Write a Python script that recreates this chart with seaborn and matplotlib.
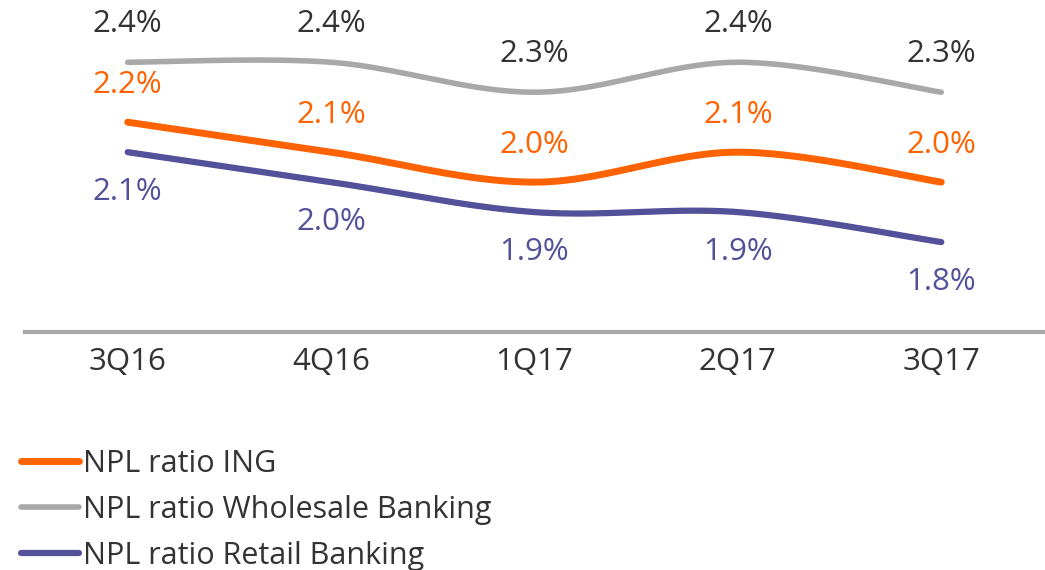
import numpy as np
import pandas as pd
import matplotlib
matplotlib.use("Agg")
import matplotlib.pyplot as plt
import seaborn as sns

quarters = ["3Q16", "4Q16", "1Q17", "2Q17", "3Q17"]
npl_ing = [2.2, 2.1, 2.0, 2.1, 2.0]
npl_wholesale = [2.4, 2.4, 2.3, 2.4, 2.3]
npl_retail = [2.1, 2.0, 1.9, 1.9, 1.8]
series_names = ["NPL ratio ING", "NPL ratio Wholesale Banking", "NPL ratio Retail Banking"]

colors = {"NPL ratio ING": "#FF6200",
          "NPL ratio Wholesale Banking": "#A8A8A8",
          "NPL ratio Retail Banking": "#525199"}
label_colors = {"NPL ratio ING": "#FF6200",
                "NPL ratio Wholesale Banking": "#333333",
                "NPL ratio Retail Banking": "#525199"}
label_offset = {"NPL ratio ING": 37,
                "NPL ratio Wholesale Banking": 38,
                "NPL ratio Retail Banking": -40}
widths = {"NPL ratio ING": 5.0, "NPL ratio Wholesale Banking": 4.0,
          "NPL ratio Retail Banking": 4.5}

sns.set_theme(style="white")
plt.rcParams["font.family"] = ["Open Sans", "DejaVu Sans"]
TXT = "#333333"
FS = 22.5
FS_LEG = 22


def smooth(xs, ys, n=60):
    """Excel-like Catmull-Rom Bezier smoothing for drawing."""
    P = np.column_stack([xs, ys]).astype(float)
    Pe = np.vstack([P[0], P, P[-1]])
    out = []
    for i in range(len(P) - 1):
        p0, p1, p2, p3 = Pe[i], Pe[i + 1], Pe[i + 2], Pe[i + 3]
        b1 = p1 + (p2 - p0) / 6.0
        b2 = p2 - (p3 - p1) / 6.0
        t = np.linspace(0, 1, n)[:, None]
        seg = ((1 - t) ** 3) * p1 + 3 * ((1 - t) ** 2) * t * b1 + 3 * (1 - t) * t ** 2 * b2 + t ** 3 * p2
        out.append(seg if i == 0 else seg[1:])
    return np.vstack(out)


df = pd.DataFrame({"quarter": quarters * 3,
                   "x": list(range(len(quarters))) * 3,
                   "value": npl_ing + npl_wholesale + npl_retail,
                   "series": sum([[s] * len(quarters) for s in series_names], [])})

W, H = 1045, 570
fig = plt.figure(figsize=(W / 100, H / 100), dpi=100)
ax = fig.add_axes([25 / W, 1 - 332 / H, (1045 - 25) / W, (332 - 2.3) / H])

for s in series_names:
    sub = df[df.series == s]
    pts = smooth(sub.x.values, sub.value.values)
    sdf = pd.DataFrame({"x": pts[:, 0], "y": pts[:, 1], "series": s})
    sns.lineplot(data=sdf, x="x", y="y", color=colors[s], linewidth=widths[s],
                 sort=False, estimator=None, ax=ax, label=s,
                 solid_capstyle="round")
    for xi, v in zip(sub.x, sub.value):
        ax.annotate(f"{v:.1f}%", (xi, v), xytext=(0, label_offset[s]),
                    textcoords="offset pixels", ha="center", va="center",
                    fontsize=FS, color=label_colors[s])

ax.set_xlim(-0.505, 4.51)
ax.set_ylim(1.5, 2.6)
ax.set_xticks(range(len(quarters)))
ax.set_xticklabels(quarters, fontsize=FS, color=TXT)
ax.set_yticks([])
ax.set_xlabel("")
ax.set_ylabel("")
for sp in ["top", "right", "left"]:
    ax.spines[sp].set_visible(False)
ax.spines["bottom"].set_color("#A8A8A8")
ax.spines["bottom"].set_linewidth(3)
ax.tick_params(axis="x", length=0, pad=11)

handles, labels = ax.get_legend_handles_labels()
ax.get_legend().remove()
leg = fig.legend(handles, labels, loc="upper left",
                 bbox_to_anchor=(21 / W, 1 - 449 / H), frameon=False,
                 fontsize=FS_LEG, handlelength=1.9, handletextpad=0.12,
                 labelspacing=0.52, borderaxespad=0, borderpad=0)
for t in leg.get_texts():
    t.set_color(TXT)
for l in leg.get_lines():
    l.set_solid_capstyle("round")

fig.savefig("out.png", dpi=100)
